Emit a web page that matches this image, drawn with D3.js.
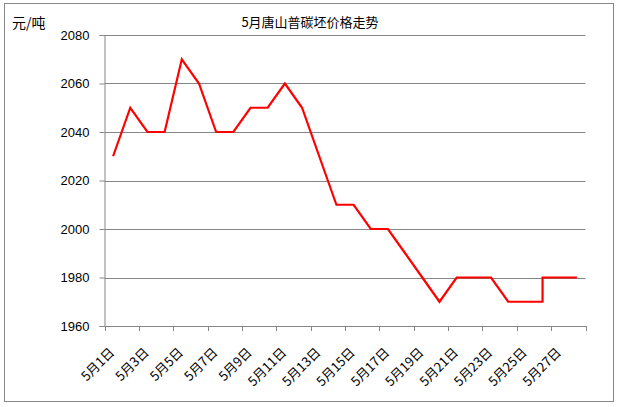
<!DOCTYPE html>
<html><head><meta charset="utf-8">
<script src="https://cdn.jsdelivr.net/npm/d3@7"></script>
<style>body{margin:0;background:#fff}</style>
</head><body>
<svg id="c" width="620" height="407"></svg>
<script>
const days = Array.from({length:28},(_,i)=>i+1);
const categories = days.map(d=>"5月"+d+"日");
const pointDays = [1,2,3,4,5,6,7,8,9,10,11,12,13,14,15,16,17,18,19,20,21,22,23,24,25,26,26,27,28];
const prices   = [2030,2050,2040,2040,2070,2060,2040,2040,2050,2050,2060,2050,2030,2010,2010,2000,2000,1990,1980,1970,1980,1980,1980,1970,1970,1970,1980,1980,1980];
const yTicks = [1960,1980,2000,2020,2040,2060,2080];
const title = "5月唐山普碳坯价格走势";
const unit = "元/吨";

const svg = d3.select("#c");
const L=104.5, R=585.5, T=35, B=326;
svg.append("rect").attr("x",4.5).attr("y",3.5).attr("width",609).attr("height",398)
  .attr("fill","#fff").attr("stroke","#888").attr("stroke-width",1);

const x = d3.scaleBand().domain(categories).range([L,R]).padding(0);
const y = d3.scaleLinear().domain([1960,2080]).range([B,T]);

// gridlines
svg.append("g").selectAll("line").data(yTicks.slice(1)).join("line")
  .attr("x1",L).attr("x2",R).attr("y1",d=>Math.round(y(d))+0.5).attr("y2",d=>Math.round(y(d))+0.5)
  .attr("stroke","#868686").attr("stroke-width",1);

// y axis
const ya = svg.append("g").attr("transform",`translate(${L},0)`)
  .call(d3.axisLeft(y).tickValues(yTicks).tickSize(5).tickPadding(10).tickFormat(d3.format("d")));
ya.select(".domain").attr("stroke","#868686");
ya.selectAll(".tick line").attr("stroke","#868686");
ya.selectAll("text").attr("font-family","Liberation Sans, Arial, sans-serif").attr("font-size",13).attr("fill","#000");

// x axis
const xa = svg.append("g").attr("transform",`translate(0,${B})`)
  .call(d3.axisBottom(x).tickSize(0).tickFormat(""));
xa.select(".domain").attr("stroke","#868686");
// ticks every 2 categories at boundaries
const boundaries = d3.range(0,29,2).map(i=>L + i*x.bandwidth());
svg.append("g").selectAll("line").data(boundaries).join("line")
  .attr("x1",d=>Math.round(d)+0.5).attr("x2",d=>Math.round(d)+0.5).attr("y1",B).attr("y2",B+5)
  .attr("stroke","#868686");
// labels
svg.append("g").selectAll("text").data(categories.filter((c,i)=>i%2===0)).join("text")
  .attr("transform",d=>`translate(${x(d)+x.bandwidth()/2-1},${B+24}) rotate(-45)`)
  .attr("text-anchor","end").attr("dy","0.35em")
  .attr("font-family","Noto Sans CJK SC, sans-serif").attr("font-size",13).attr("fill","#000")
  .text(d=>d);

// line
const line = d3.line().x((d,i)=>x(categories[pointDays[i]-1])+x.bandwidth()/2).y(d=>y(d));
svg.append("path").datum(prices).attr("d",line).attr("fill","none")
  .attr("stroke","#ff0000").attr("stroke-width",2.2).attr("stroke-linejoin","miter");

// title
svg.append("text").attr("x",310).attr("y",27).attr("text-anchor","middle")
  .attr("font-family","Noto Sans CJK SC, sans-serif").attr("font-size",13).text(title);
svg.append("text").attr("x",12).attr("y",28)
  .attr("font-family","Noto Sans CJK SC, sans-serif").attr("font-size",14).text(unit);
</script>
</body></html>
